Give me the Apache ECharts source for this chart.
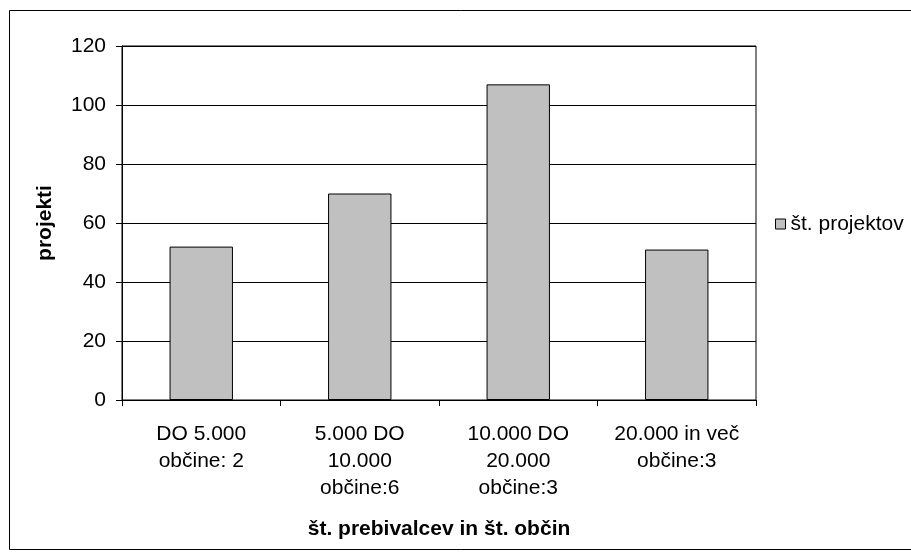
<!DOCTYPE html>
<html>
<head>
<meta charset="utf-8">
<script src="https://cdn.jsdelivr.net/npm/echarts@6/dist/echarts.min.js"></script>
<style>
html,body{margin:0;padding:0;background:#fff;}
#chart{width:911px;height:558px;}
</style>
</head>
<body>
<div id="chart"></div>
<script>
var categories = ['DO 5.000\nobčine: 2', '5.000 DO\n10.000\nobčine:6', '10.000 DO\n20.000\nobčine:3', '20.000 in več\nobčine:3'];
var seriesName = 'št. projektov';
var values = [52, 70, 107, 51];
var yTicks = {min: 0, max: 120, interval: 20};
var xTitle = 'št. prebivalcev in št. občin';
var yTitle = 'projekti';

var chart = echarts.init(document.getElementById('chart'), null, {renderer: 'canvas'});
var font = 'Liberation Sans, Arial, sans-serif';
chart.setOption({
  animation: false,
  backgroundColor: '#fff',
  textStyle: {fontFamily: font},
  graphic: [
    {type: 'rect', z: -10, shape: {x: 9.5, y: 10.5, width: 1000, height: 539}, style: {fill: '#fff', stroke: '#000', lineWidth: 1}}
  ],
  grid: {left: 122, right: 155, top: 46, bottom: 158, show: true, borderColor: '#000', borderWidth: 1, backgroundColor: 'transparent'},
  legend: {
    data: [seriesName], orient: 'vertical', left: 775, top: 213, padding: 0,
    itemWidth: 10, itemHeight: 10, itemGap: 4,
    icon: 'rect',
    textStyle: {fontFamily: font, fontSize: 21, color: '#000', lineHeight: 22, padding: [0, 0, 0, 0]},
    itemStyle: {color: '#c0c0c0', borderColor: '#000', borderWidth: 1}
  },
  xAxis: {
    type: 'category', data: categories,
    name: xTitle, nameLocation: 'middle', nameGap: 119,
    nameTextStyle: {fontFamily: font, fontSize: 21, fontWeight: 'bold', color: '#000'},
    axisLine: {lineStyle: {color: '#000', width: 1}},
    axisTick: {show: true, length: 6, lineStyle: {color: '#000'}},
    axisLabel: {interval: 0, fontFamily: font, fontSize: 21, color: '#000', lineHeight: 27, margin: 21}
  },
  yAxis: {
    type: 'value', min: yTicks.min, max: yTicks.max, interval: yTicks.interval,
    name: yTitle, nameLocation: 'middle', nameGap: 66,
    nameTextStyle: {fontFamily: font, fontSize: 21, fontWeight: 'bold', color: '#000'},
    axisLine: {show: true, lineStyle: {color: '#000', width: 1}},
    axisTick: {show: true, length: 6, lineStyle: {color: '#000'}},
    axisLabel: {fontFamily: font, fontSize: 21, color: '#000', margin: 16},
    splitLine: {show: true, lineStyle: {color: '#000', width: 1}}
  },
  series: [{
    name: seriesName, type: 'bar', data: values,
    barCategoryGap: '60%',
    itemStyle: {color: '#c0c0c0', borderColor: '#000', borderWidth: 1}
  }]
});
</script>
</body>
</html>
